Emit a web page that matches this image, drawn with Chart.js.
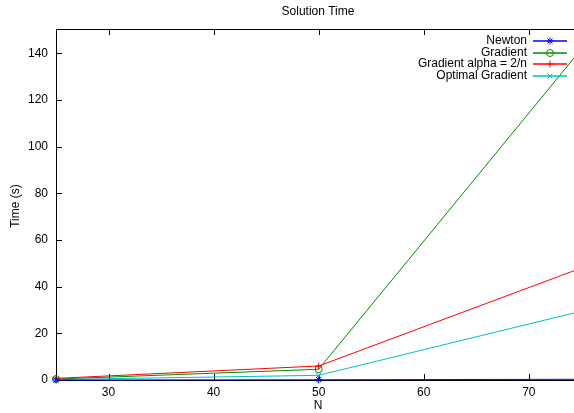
<!DOCTYPE html>
<html>
<head>
<meta charset="utf-8">
<script src="https://cdn.jsdelivr.net/npm/chart.js@4/dist/chart.umd.min.js"></script>
<style>
    html, body { margin: 0; padding: 0; background: #fff; }
    #wrap { width: 574px; height: 413px; }
</style>
</head>
<body>
<div id="wrap"><canvas id="timeChart" width="574" height="413"></canvas></div>
<script>
// ==========================================
// DATA
// ==========================================
const nValues = [25, 50, 75];
const newtonTimes = [0.0, 0.1, 0.3];
const gradientTimes = [0.4, 4.6, 141.8];
const alphaTimes = [0.7, 6.0, 48];
const optimalTimes = [0.2, 2.0, 29.5];

const seriesNames = ['Newton', 'Gradient', 'Gradient alpha = 2/n', 'Optimal Gradient'];
const xTickValues = [30, 40, 50, 60, 70];
const yTickValues = [0, 20, 40, 60, 80, 100, 120, 140];

const FONT = 'Liberation Sans, Arial, sans-serif';

function toPoints(values) {
    return nValues.map((n, i) => ({ x: n, y: values[i] }));
}

// ==========================================
// FRAME, TICKS, TITLES AND LEGEND (gnuplot look)
// ==========================================
const framePlugin = {
    id: 'frame',
    beforeDatasetsDraw(chart) {
        const { ctx, chartArea: a, scales } = chart;
        ctx.save();
        ctx.strokeStyle = '#000';
        ctx.lineWidth = 1;
        ctx.beginPath();
        ctx.moveTo(a.right + 1, a.top + 0.5);
        ctx.lineTo(a.left + 0.5, a.top + 0.5);
        ctx.lineTo(a.left + 0.5, a.bottom + 0.5);
        ctx.lineTo(a.right + 1, a.bottom + 0.5);
        // inward ticks
        xTickValues.forEach(v => {
            const px = Math.round(scales.x.getPixelForValue(v)) + 0.5;
            ctx.moveTo(px, a.bottom);
            ctx.lineTo(px, a.bottom - 6);
            ctx.moveTo(px, a.top);
            ctx.lineTo(px, a.top + 6);
        });
        yTickValues.forEach(v => {
            const py = Math.round(scales.y.getPixelForValue(v)) + 0.5;
            ctx.moveTo(a.left, py);
            ctx.lineTo(a.left + 6, py);
        });
        ctx.stroke();
        ctx.restore();
    },
    afterDraw(chart) {
        const { ctx } = chart;
        ctx.save();
        ctx.fillStyle = '#000';
        ctx.font = '12px ' + FONT;
        ctx.textAlign = 'center';
        ctx.textBaseline = 'middle';
        ctx.fillText('Solution Time', 318, 12);
        ctx.fillText('N', 318, 406);
        ctx.translate(16, 206);
        ctx.rotate(-Math.PI / 2);
        ctx.fillText('Time (s)', 0, 0);
        ctx.restore();

        // legend
        chart.data.datasets.forEach((ds, i) => {
            const y = Math.round(41 + i * 11.5);
            ctx.save();
            ctx.fillStyle = '#000';
            ctx.font = '12px ' + FONT;
            ctx.textAlign = 'right';
            ctx.textBaseline = 'middle';
            ctx.fillText(seriesNames[i], 527, y);
            ctx.strokeStyle = ds.borderColor;
            ctx.fillStyle = 'rgba(0,0,0,0)';
            ctx.lineWidth = 1.3;
            ctx.beginPath();
            ctx.moveTo(533, y);
            ctx.lineTo(567, y);
            ctx.stroke();
            ctx.lineWidth = 1;
            Chart.helpers.drawPoint(ctx, {
                pointStyle: ds.pointStyle,
                radius: ds.pointRadius,
                borderWidth: 1,
                rotation: 0
            }, 550, y);
            ctx.restore();
        });
    }
};

// ==========================================
// CHART
// ==========================================
function makeSet(label, values, color, style, order) {
    return {
        label: label,
        data: toPoints(values),
        borderColor: color,
        backgroundColor: 'rgba(0,0,0,0)',
        pointBorderColor: color,
        pointBackgroundColor: 'rgba(0,0,0,0)',
        borderWidth: 1,
        pointStyle: style,
        pointRadius: 3.5,
        pointBorderWidth: 1,
        tension: 0,
        clip: false,
        order: order
    };
}

new Chart(document.getElementById('timeChart'), {
    type: 'line',
    data: {
        datasets: [
            makeSet(seriesNames[0], newtonTimes, '#0000ff', 'star', 1),
            makeSet(seriesNames[1], gradientTimes, '#008c00', 'circle', 4),
            makeSet(seriesNames[2], alphaTimes, '#ff0000', 'cross', 3),
            makeSet(seriesNames[3], optimalTimes, '#00c0c0', 'crossRot', 2)
        ]
    },
    options: {
        responsive: false,
        animation: false,
        events: [],
        layout: { autoPadding: false, padding: { top: 29, right: 0, left: 0, bottom: 0 } },
        plugins: {
            legend: { display: false },
            title: { display: false },
            tooltip: { enabled: false }
        },
        scales: {
            x: {
                type: 'linear',
                min: 25,
                max: 74.3,
                afterBuildTicks: s => { s.ticks = xTickValues.map(v => ({ value: v })); },
                afterFit: s => { s.height = 33; },
                grid: { display: false, drawTicks: false },
                border: { display: false },
                ticks: { color: '#000', padding: 5, font: { family: FONT, size: 12 } }
            },
            y: {
                min: 0,
                max: 150.4,
                afterBuildTicks: s => { s.ticks = yTickValues.map(v => ({ value: v })); },
                afterFit: s => { s.width = 56; },
                grid: { display: false, drawTicks: false },
                border: { display: false },
                ticks: { color: '#000', padding: 8, font: { family: FONT, size: 12 } }
            }
        }
    },
    plugins: [framePlugin]
});
</script>
</body>
</html>
